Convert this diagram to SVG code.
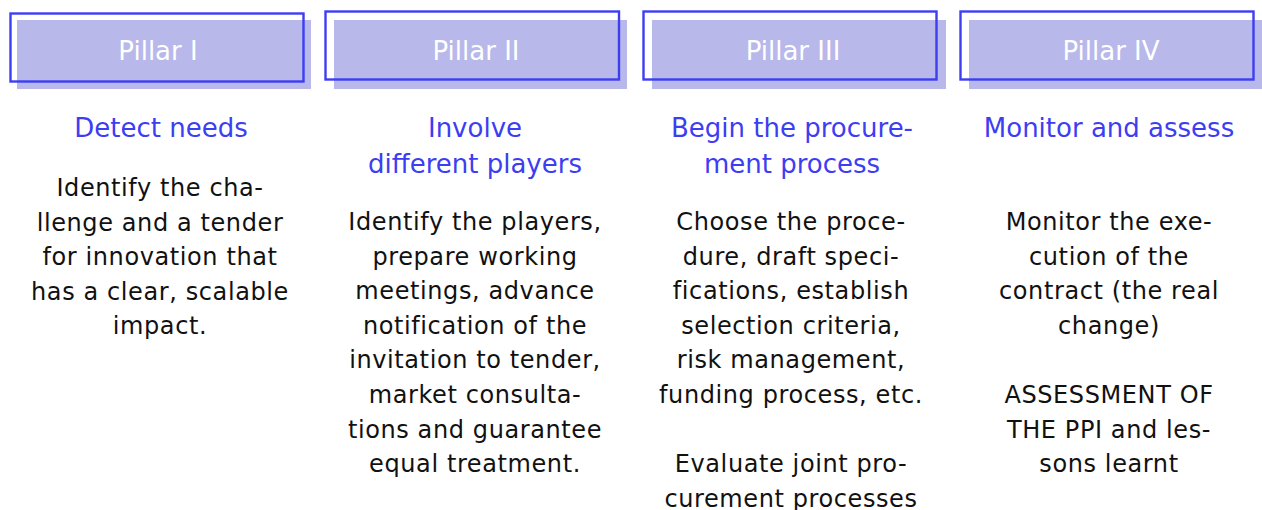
<svg xmlns="http://www.w3.org/2000/svg" width="1262" height="510" viewBox="0 0 1262 510">
<style>
.fill{fill:#b8b8ea}
.outline{fill:none;stroke:#3d3df2;stroke-width:2.4}
.ph{font-family:"DejaVu Sans",sans-serif;font-size:26px;fill:#ffffff;text-anchor:middle}
.ttl{font-family:"DejaVu Sans",sans-serif;font-size:26px;fill:#3d3df2;text-anchor:middle}
.body{font-family:"DejaVu Sans",sans-serif;font-size:24px;fill:#111111;text-anchor:middle;letter-spacing:0.6px}
</style>
<rect width="1262" height="510" fill="#ffffff"/>
<g id="pillar1">
<rect class="fill" x="17" y="20" width="294" height="69"/>
<rect class="outline" x="10.5" y="13.5" width="293" height="68"/>
<text class="ph" x="158" y="60">Pillar I</text>
<text class="ttl" x="161" y="137">Detect needs</text>
<text class="body" x="160" y="196"><tspan x="160" dy="0">Identify the cha-</tspan><tspan x="160" dy="34.6">llenge and a tender</tspan><tspan x="160" dy="34.6">for innovation that</tspan><tspan x="160" dy="34.6">has a clear, scalable</tspan><tspan x="160" dy="34.6">impact.</tspan></text>
</g>
<g id="pillar2">
<rect class="fill" x="334" y="20" width="293" height="69"/>
<rect class="outline" x="325.5" y="11.5" width="293.5" height="68"/>
<text class="ph" x="476" y="60">Pillar II</text>
<text class="ttl" x="475" y="137"><tspan x="475" dy="0">Involve</tspan><tspan x="475" dy="35.5">different players</tspan></text>
<text class="body" x="475" y="230"><tspan x="475" dy="0">Identify the players,</tspan><tspan x="475" dy="34.6">prepare working</tspan><tspan x="475" dy="34.6">meetings, advance</tspan><tspan x="475" dy="34.6">notification of the</tspan><tspan x="475" dy="34.6">invitation to tender,</tspan><tspan x="475" dy="34.6">market consulta-</tspan><tspan x="475" dy="34.6">tions and guarantee</tspan><tspan x="475" dy="34.6">equal treatment.</tspan></text>
</g>
<g id="pillar3">
<rect class="fill" x="652" y="20" width="294" height="69"/>
<rect class="outline" x="643.5" y="11.5" width="293" height="68"/>
<text class="ph" x="793" y="60">Pillar III</text>
<text class="ttl" x="792" y="137"><tspan x="792" dy="0">Begin the procure-</tspan><tspan x="792" dy="35.5">ment process</tspan></text>
<text class="body" x="791" y="230"><tspan x="791" dy="0">Choose the proce-</tspan><tspan x="791" dy="34.6">dure, draft speci-</tspan><tspan x="791" dy="34.6">fications, establish</tspan><tspan x="791" dy="34.6">selection criteria,</tspan><tspan x="791" dy="34.6">risk management,</tspan><tspan x="791" dy="34.6">funding process, etc.</tspan><tspan x="791" dy="69.2">Evaluate joint pro-</tspan><tspan x="791" dy="34.6">curement processes</tspan></text>
</g>
<g id="pillar4">
<rect class="fill" x="969" y="20" width="293" height="69"/>
<rect class="outline" x="960.5" y="11.5" width="293" height="68"/>
<text class="ph" x="1111" y="60">Pillar IV</text>
<text class="ttl" x="1109" y="137">Monitor and assess</text>
<text class="body" x="1109" y="230"><tspan x="1109" dy="0">Monitor the exe-</tspan><tspan x="1109" dy="34.6">cution of the</tspan><tspan x="1109" dy="34.6">contract (the real</tspan><tspan x="1109" dy="34.6">change)</tspan><tspan x="1109" dy="69.2">ASSESSMENT OF</tspan><tspan x="1109" dy="34.6">THE PPI and les-</tspan><tspan x="1109" dy="34.6">sons learnt</tspan></text>
</g>
<g id="connectors"/>
</svg>
